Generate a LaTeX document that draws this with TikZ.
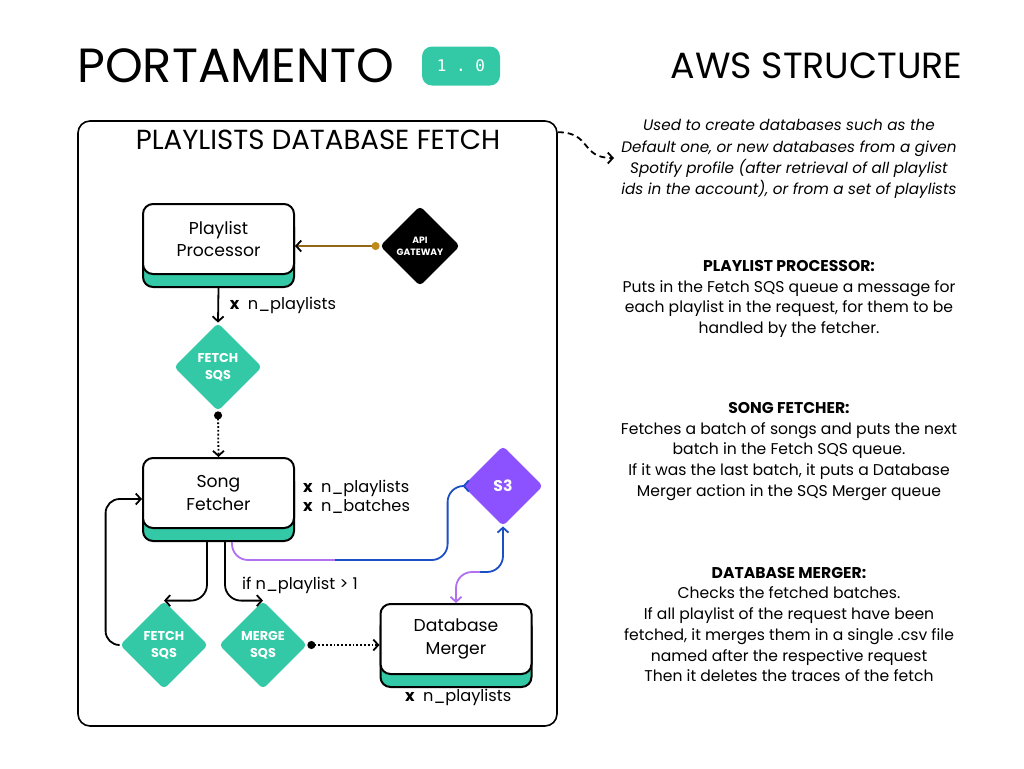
\documentclass[tikz,border=0pt]{standalone}
\usepackage{fontspec}
\setmainfont{Poppins}
\setmonofont{DejaVu Sans Mono}
\usetikzlibrary{shapes.geometric,shadows,arrows.meta}

\definecolor{seafoam}{HTML}{33C9A6}
\definecolor{violet}{HTML}{8C52FF}
\definecolor{lilac}{HTML}{B070F0}
\definecolor{cobalt}{HTML}{1C4FC4}
\definecolor{ochre}{HTML}{BF8A1C}
\definecolor{umber}{HTML}{5A3E12}

\tikzset{
  procbox/.style={draw, line width=1pt, fill=white, rounded corners=5pt,
    minimum width=75.5pt, minimum height=35pt, align=center,
    font=\fontsize{8.6}{11.2}\selectfont,
    general shadow={draw=black, line width=1pt, fill=seafoam, shadow yshift=-6.5pt}},
  queue/.style={diamond, aspect=1, fill=seafoam, rounded corners=2pt,
    minimum width=44pt, minimum height=44pt, inner sep=0pt, text=white,
    align=center, font=\bfseries\fontsize{6.4}{8.4}\selectfont},
  note/.style={align=center, font=\fontsize{7.8}{10.35}\selectfont},
  count/.style={anchor=west, align=left, font=\fontsize{8.1}{9.7}\selectfont},
  wire/.style={line width=0.9pt, -{Straight Barb[length=2.5pt,width=5.5pt]}},
  feed/.style={densely dotted, line width=0.9pt,
    {Circle[length=4pt]}-{Straight Barb[length=2.5pt,width=5.5pt]}},
}

\begin{document}
\begin{tikzpicture}[x=0.5pt, y=-0.5pt]
  \useasboundingbox (0,0) rectangle (1024,768);

  % header
  \node[anchor=west, inner sep=0pt, font=\fontsize{24}{28}\selectfont] (title) at (77,66) {PORTAMENTO};
  \node[fill=seafoam, rounded corners=5pt, minimum width=39pt, minimum height=19.5pt,
    text=white, font=\ttfamily\fontsize{8}{10}\selectfont] (version) at (461,66) {1 . 0};
  \node[anchor=east, inner sep=0pt, font=\fontsize{18.2}{22}\selectfont] (aws) at (963,66) {AWS STRUCTURE};

  % frame
  \node[draw, line width=0.8pt, rounded corners=6pt, minimum width=239.5pt,
    minimum height=302.5pt] (frame) at (317.5,423.5) {};
  \node[font=\fontsize{13.8}{16}\selectfont] (fetchtitle) at (318,140) {PLAYLISTS DATABASE FETCH};

  \coordinate (intro) at (614,158);
  \draw[densely dashed, line width=0.9pt, -{Straight Barb[length=2.5pt,width=5.5pt]}]
    ([yshift=-6pt]frame.north east) to[out=0, in=180, looseness=1.4] (intro);
  \node[note, font=\itshape\fontsize{7.6}{10.6}\selectfont] (about) at (789,159)
    {Used to create databases such as the\\Default one, or new databases from a given\\
     Spotify profile (after retrieval of all playlist\\ids in the account), or from a set of playlists};

  % processor
  \node[procbox] (proc) at (218.5,239) {Playlist\\Processor};
  \node[diamond, aspect=1, fill=black, rounded corners=2pt, minimum width=40pt,
    minimum height=40pt, inner sep=0pt, text=white, align=center,
    font=\bfseries\fontsize{4.6}{6.2}\selectfont] (api) at (420,246) {API\\GATEWAY};
  \draw[line width=0.9pt, draw=ochre!55!umber,
    {Circle[length=4pt, color=ochre]}-{Straight Barb[length=2.5pt,width=5.5pt, color=black]}]
    (api.west) -- (api.west -| proc.east);

  \node[queue] (fetch) at (218,367) {FETCH\\SQS};
  \draw[wire] ([yshift=-6.5pt]proc.south) -- (fetch.north)
    node[count, midway, xshift=2pt] {\textbf{x}\ \ n\_playlists};

  % fetcher
  \node[procbox] (song) at (218.5,493) {Song\\Fetcher};
  \draw[feed] (fetch.south) -- (song.north);
  \node[count] (songcount) at (296,497) {\textbf{x}\ \ n\_playlists\\\textbf{x}\ \ n\_batches};

  \foreach \name/\px/\label in {retry/164/FETCH, merge/263/MERGE}{
    \node[queue] (\name) at (\px,645) {\label\\SQS};
  }
  \draw[wire, rounded corners=8pt] ([xshift=-5.75pt,yshift=-6.5pt]song.south) |- (retry.north);
  \draw[wire, rounded corners=8pt] ([xshift=3.25pt,yshift=-6.5pt]song.south) |- (merge.north);
  \node[count] (cond) at (235,585) {if n\_playlist > 1};
  \draw[wire, rounded corners=7pt] (retry.west) -- ++(-7pt,0) |- ([yshift=-3pt]song.west);

  % storage
  \node[diamond, aspect=1, fill=violet, rounded corners=2pt, minimum width=40pt,
    minimum height=40pt, inner sep=0pt, text=white,
    font=\bfseries\fontsize{7.8}{9}\selectfont] (s3) at (503,486) {S3};
  \coordinate (store) at (335,560);
  \draw[lilac, line width=0.9pt, rounded corners=8pt] ([xshift=6.75pt,yshift=-6.5pt]song.south) |- (store);
  \draw[wire, cobalt, rounded corners=8pt] (store) -| ([xshift=-7.5pt]s3.west) -- (s3.west);

  % merger
  \node[procbox] (merger) at (456,639) {Database\\Merger};
  \draw[feed] (merge.east) -- (merge.east -| merger.west);
  \node[count] (mergecount) at (398,697) {\textbf{x}\ \ n\_playlists};

  \coordinate (link) at (480,572);
  \draw[wire, lilac, rounded corners=8pt] (link) -| (merger.north);
  \draw[wire, cobalt, rounded corners=8pt] (link) -| (s3.south);

  % notes
  \node[note] (procnote) at (789,299) {\textbf{PLAYLIST PROCESSOR:}\\Puts in the Fetch SQS queue a message for\\
    each playlist in the request, for them to be\\handled by the fetcher.};
  \node[note] (songnote) at (789,451.5) {\textbf{SONG FETCHER:}\\Fetches a batch of songs and puts the next\\
    batch in the Fetch SQS queue.\\If it was the last batch, it puts a Database\\Merger action in the SQS Merger queue};
  \node[note] (mergenote) at (789,624.5) {\textbf{DATABASE MERGER:}\\Checks the fetched batches.\\
    If all playlist of the request have been\\fetched, it merges them in a single .csv file\\
    named after the respective request\\Then it deletes the traces of the fetch};
\end{tikzpicture}
\end{document}
